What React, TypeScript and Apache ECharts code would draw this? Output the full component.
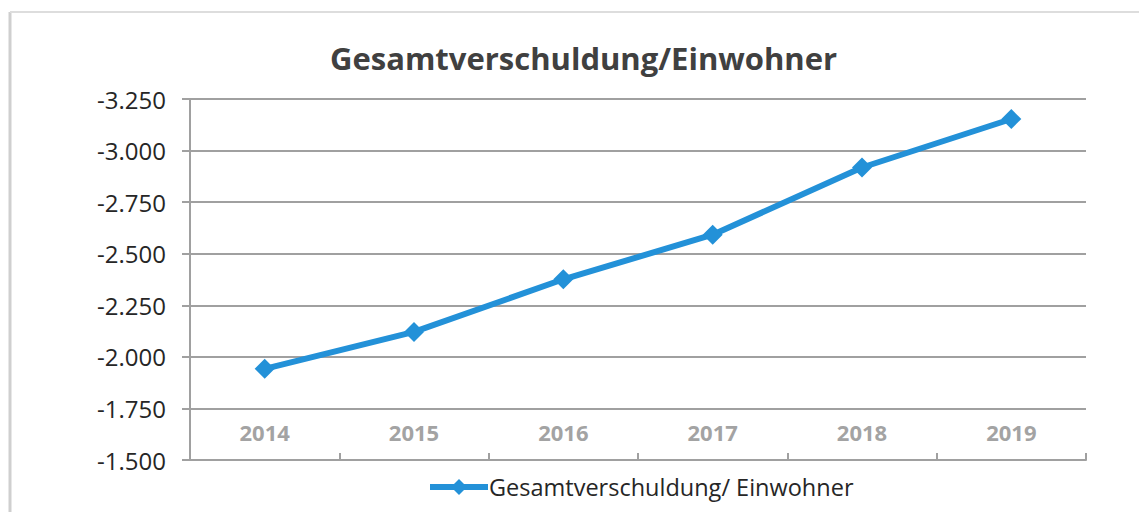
import React, { useEffect, useRef } from "react";
import * as echarts from "echarts";

const years = ["2014", "2015", "2016", "2017", "2018", "2019"];
const debtPerResident = [-1942, -2121, -2376, -2592, -2918, -3153];
const seriesName = "Gesamtverschuldung/ Einwohner";
const titleText = "Gesamtverschuldung/Einwohner";

const fmt = (v: number) => {
  const s = Math.abs(v).toString().replace(/\B(?=(\d{3})+(?!\d))/g, ".");
  return (v < 0 ? "-" : "") + s;
};

export default function App() {
  const ref = useRef<HTMLDivElement>(null);
  useEffect(() => {
    const chart = echarts.init(ref.current!, undefined, { renderer: "svg" });
    const font = "'Open Sans', 'Noto Sans', sans-serif";
    chart.setOption({
      animation: false,
      backgroundColor: "#ffffff",
      title: {
        text: titleText,
        left: 325,
        top: 37,
        textStyle: { fontFamily: font, fontSize: 31, fontWeight: "bold", color: "#404040" },
      },
      legend: {
        bottom: 8,
        left: 422,
        itemWidth: 58,
        itemHeight: 20,
        itemGap: 4,
        lineStyle: { width: 6 },
        textStyle: { fontFamily: font, fontSize: 23.5, color: "#262626", padding: [0, 0, 0, -4] },
        data: [{ name: seriesName }],
      },
      graphic: [
        { type: "line", shape: { x1: 10, y1: 12, x2: 10, y2: 512 }, style: { stroke: "#cfcfcf", lineWidth: 3 } },
        { type: "line", shape: { x1: 10, y1: 12, x2: 1139, y2: 12 }, style: { stroke: "#dddddd", lineWidth: 2 } },
      ],
      grid: { left: 190, right: 53, top: 99, bottom: 52 },
      xAxis: {
        type: "category",
        data: years,
        boundaryGap: true,
        axisLine: { show: true, onZero: false, lineStyle: { color: "#a0a0a0", width: 2 } },
        axisTick: { show: true, inside: true, length: 7, alignWithLabel: false, lineStyle: { color: "#a0a0a0", width: 2 } },
        axisLabel: {
          inside: true,
          margin: 17,
          fontFamily: font,
          fontSize: 22,
          fontWeight: "bold",
          color: "#a3a3a3",
        },
        splitLine: { show: false },
      },
      yAxis: {
        type: "value",
        inverse: true,
        min: -3250,
        max: -1500,
        interval: 250,
        axisLine: { show: true, lineStyle: { color: "#a0a0a0", width: 2 } },
        axisTick: { show: true, length: 8, lineStyle: { color: "#a0a0a0", width: 2 } },
        axisLabel: {
          margin: 24,
          fontFamily: font,
          fontSize: 24,
          color: "#262626",
          formatter: (v: number) => fmt(v),
        },
        splitLine: { show: true, lineStyle: { color: "#a0a0a0", width: 2 } },
      },
      series: [
        {
          name: seriesName,
          type: "line",
          data: debtPerResident,
          symbol: "diamond",
          symbolSize: 20,
          lineStyle: { color: "#2391d8", width: 6 },
          itemStyle: { color: "#2391d8" },
        },
      ],
    });
    return () => chart.dispose();
  }, []);
  return <div ref={ref} style={{ width: 1139, height: 512, position: "absolute", left: 0, top: 0 }} />;
}
